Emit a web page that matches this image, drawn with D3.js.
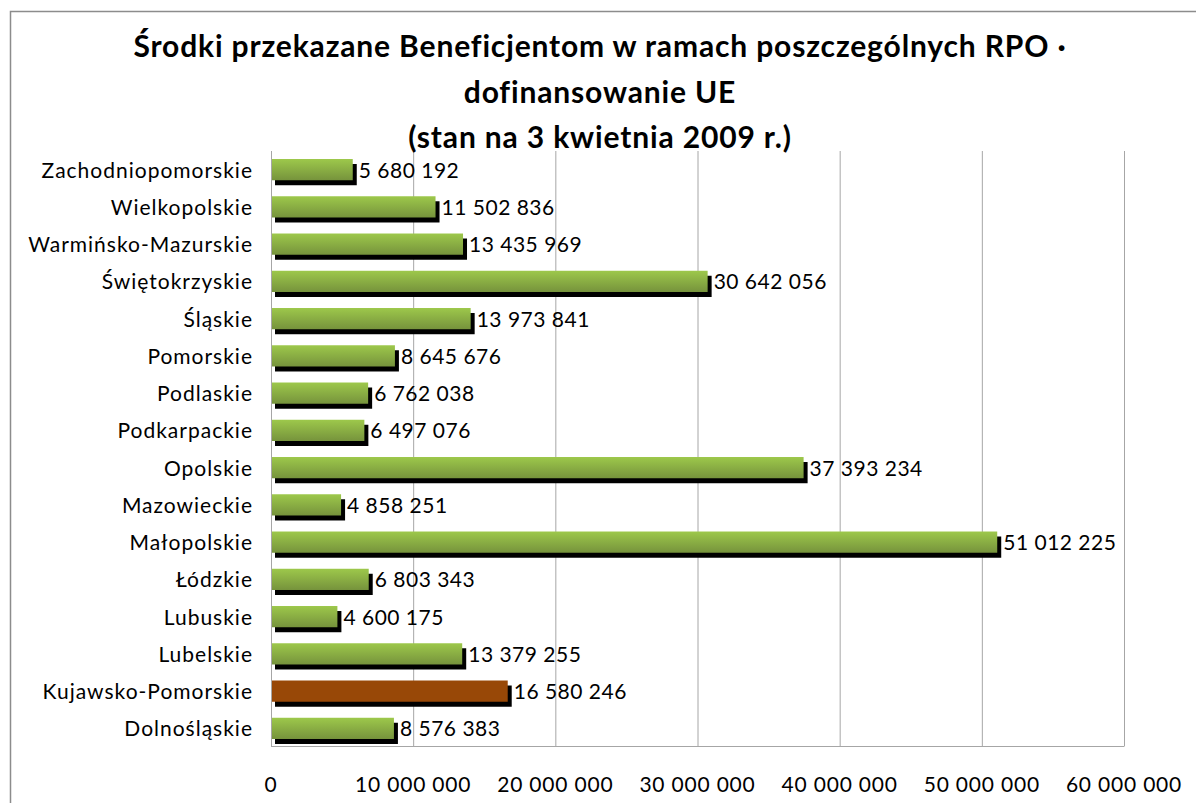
<!DOCTYPE html>
<html>
<head>
<meta charset="utf-8">
<script src="https://cdn.jsdelivr.net/npm/d3@7"></script>
<style>
  body { margin: 0; background: #fff; }
  svg { display: block; font-family: Lato, "Open Sans", sans-serif; }
</style>
</head>
<body>
<svg id="chart"></svg>
<script>
// data, bottom to top as in the sheet
const regions = ['Dolnośląskie', 'Kujawsko-Pomorskie', 'Lubelskie', 'Lubuskie', 'Łódzkie',
  'Małopolskie', 'Mazowieckie', 'Opolskie', 'Podkarpackie', 'Podlaskie', 'Pomorskie',
  'Śląskie', 'Świętokrzyskie', 'Warmińsko-Mazurskie', 'Wielkopolskie', 'Zachodniopomorskie']
const amounts = [8576383, 16580246, 13379255, 4600175, 6803343,
  51012225, 4858251, 37393234, 6497076, 6762038, 8645676,
  13973841, 30642056, 13435969, 11502836, 5680192]
const highlighted = ['Kujawsko-Pomorskie']
const tickValues = [0, 10000000, 20000000, 30000000, 40000000, 50000000, 60000000]
const titleLines = ['Środki przekazane Beneficjentom w ramach poszczególnych RPO ·',
  'dofinansowanie UE', '(stan na 3 kwietnia 2009 r.)']

const width = 1196
const height = 803
const margin = { left: 271, right: 72, top: 151, bottom: 57 }

const svg = d3.select('svg#chart').attr('width', width).attr('height', height)

const data = regions.map((r, i) => ({ region: r, value: amounts[i] }))

// outer chart border
svg.append('rect')
  .attr('x', 10.5).attr('y', 11.5)
  .attr('width', width).attr('height', height)
  .attr('fill', 'none').attr('stroke', '#8c8c8c').attr('stroke-width', 1.5)

const x = d3.scaleLinear().domain([0, 60000000]).range([margin.left, width - margin.right])
const y = d3.scaleBand()
  .domain(regions.slice().reverse())
  .range([margin.top, 747])
  .paddingInner(0.43)
  .paddingOuter(0.215)

const fmt = v => d3.format(',')(v).replace(/,/g, ' ')

// gradient for green bars
const defs = svg.append('defs')
const grad = defs.append('linearGradient').attr('id', 'green').attr('x1', 0).attr('y1', 0).attr('x2', 0).attr('y2', 1)
grad.append('stop').attr('offset', '0%').attr('stop-color', '#9dc84b')
grad.append('stop').attr('offset', '100%').attr('stop-color', '#76933c')

// gridlines
svg.append('g').selectAll('line').data(tickValues.slice(1))
  .enter().append('line')
  .attr('x1', d => x(d) + 0.5).attr('x2', d => x(d) + 0.5)
  .attr('y1', margin.top).attr('y2', 746)
  .attr('stroke', '#a6a6a6').attr('stroke-width', 1)

// bottom border of plot area and left axis
svg.append('line').attr('x1', margin.left).attr('x2', x(60000000) + 0.5)
  .attr('y1', 746.5).attr('y2', 746.5).attr('stroke', '#a6a6a6')
svg.append('line').attr('x1', margin.left + 0.5).attr('x2', margin.left + 0.5)
  .attr('y1', margin.top).attr('y2', 747).attr('stroke', '#a6a6a6')

// shadows
svg.append('g').selectAll('rect').data(data)
  .enter().append('rect')
  .attr('x', x(0) + 4)
  .attr('y', d => y(d.region) + 5)
  .attr('width', d => x(d.value) - x(0) + 1)
  .attr('height', y.bandwidth())
  .attr('fill', '#000')

// bars
svg.append('g').selectAll('rect').data(data)
  .enter().append('rect')
  .attr('x', x(0) + 1)
  .attr('y', d => y(d.region))
  .attr('width', d => x(d.value) - x(0))
  .attr('height', y.bandwidth())
  .attr('fill', d => highlighted.includes(d.region) ? '#984807' : 'url(#green)')

// value labels
svg.append('g').selectAll('text').data(data)
  .enter().append('text')
  .attr('x', d => x(d.value) + 7)
  .attr('y', d => y(d.region) + y.bandwidth() / 2 + 8)
  .attr('font-size', 21)
  .attr('letter-spacing', 0.5)
  .attr('fill', '#000')
  .text(d => fmt(d.value))

// category labels
svg.append('g').selectAll('text').data(data)
  .enter().append('text')
  .attr('x', 253)
  .attr('y', d => y(d.region) + y.bandwidth() / 2 + 8)
  .attr('text-anchor', 'end')
  .attr('font-size', 21)
  .attr('letter-spacing', 1)
  .attr('fill', '#000')
  .text(d => d.region)

// tick labels
svg.append('g').selectAll('text').data(tickValues)
  .enter().append('text')
  .attr('x', d => x(d))
  .attr('y', 792)
  .attr('text-anchor', 'middle')
  .attr('font-size', 21)
  .attr('letter-spacing', 0.8)
  .attr('fill', '#000')
  .text(d => fmt(d))

// title
svg.append('g').selectAll('text').data(titleLines)
  .enter().append('text')
  .attr('x', 600)
  .attr('y', (d, i) => 57 + i * 45.5)
  .attr('text-anchor', 'middle')
  .attr('font-size', 30)
  .attr('letter-spacing', 0.85)
  .attr('font-weight', 'bold')
  .attr('fill', '#000')
  .text(d => d)
</script>
</body>
</html>
